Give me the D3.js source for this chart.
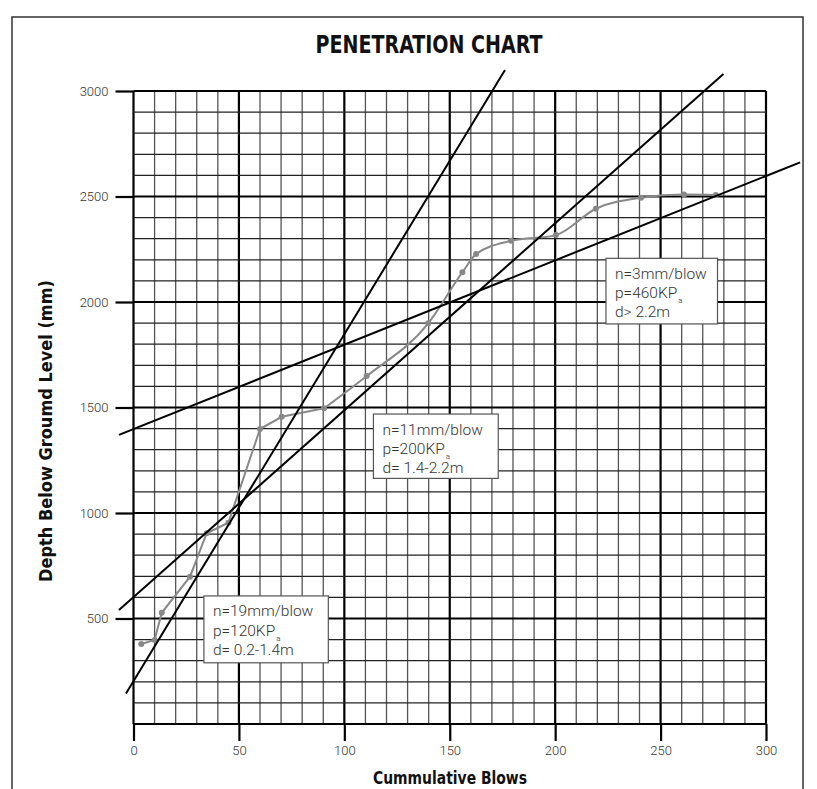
<!DOCTYPE html>
<html>
<head>
<meta charset="utf-8">
<script src="https://cdn.jsdelivr.net/npm/d3@7"></script>
<style>
  html, body { margin: 0; padding: 0; background: #fff; }
  svg { display: block; }
</style>
</head>
<body>
<script>
// ---------- DATA ----------
const xTickValues = [0, 50, 100, 150, 200, 250, 300];
const yTickValues = [500, 1000, 1500, 2000, 2500, 3000];
const blows  = [3.7, 10, 13.4, 26.8, 34.7, 45, 60, 70.3, 90.4, 110.6, 139.8, 156, 162.5, 179, 200.4, 219.3, 240.7, 261.1, 276.2];
const depths = [379, 398, 527, 698, 904, 954, 1398, 1456, 1496, 1649, 1899, 2141, 2227, 2290, 2317, 2442, 2494, 2509, 2507];
// fitted lines: [x, y] in data units
const fitLineStart = [[-3.56, 145], [-6.9, 540], [-6.9, 1370]];
const fitLineEnd   = [[176.2, 3100], [279.8, 3080], [316.2, 2662]];
const annotationN = ["n=19mm/blow", "n=11mm/blow", "n=3mm/blow"];
const annotationP = ["p=120KP", "p=200KP", "p=460KP"];
const annotationD = ["d= 0.2-1.4m", "d= 1.4-2.2m", "d> 2.2m"];

// ---------- LAYOUT ----------
const W = 817, H = 789;
const svg = d3.select("body").append("svg").attr("width", W).attr("height", H);
const x = d3.scaleLinear().domain([0, 300]).range([133.5, 766]);
const y = d3.scaleLinear().domain([0, 3000]).range([724, 91]);
// annotation box extents in data units [x0, x1, yTop, yBottom]
const boxExt = [[33.4, 92.4, 607, 290], [113.8, 173, 1469, 1164], [224.1, 277, 2207, 1896]];

// outer border
svg.append("rect").attr("x", 12).attr("y", 17).attr("width", 791).attr("height", 820)
  .attr("fill", "none").attr("stroke", "#333").attr("stroke-width", 1.5);

// title
svg.append("text").attr("x", 429).attr("y", 53).attr("text-anchor", "middle")
  .attr("font-family", "'Liberation Sans Narrow','DejaVu Sans Condensed',Roboto,sans-serif")
  .attr("font-weight", "bold").attr("font-size", 24)
  .attr("textLength", 227).attr("lengthAdjust", "spacingAndGlyphs")
  .attr("fill", "#111").text("PENETRATION CHART");

// grid
const g = svg.append("g");
const xs = d3.range(0, 301, 10), ys = d3.range(0, 3001, 100);
g.selectAll("line.v").data(xs).join("line")
  .attr("x1", d => x(d)).attr("x2", d => x(d)).attr("y1", y(0)).attr("y2", y(3000))
  .attr("stroke", d => d % 50 === 0 ? "#000" : "#555")
  .attr("stroke-width", d => d % 50 === 0 ? 2.2 : 1.3);
g.selectAll("line.h").data(ys).join("line")
  .attr("y1", d => y(d)).attr("y2", d => y(d)).attr("x1", x(0)).attr("x2", x(300))
  .attr("stroke", d => d % 500 === 0 ? "#000" : "#222")
  .attr("stroke-width", d => d % 500 === 0 ? 2.2 : 1.3);

// axes
const tickFont = "Roboto, 'Liberation Sans', sans-serif";
const ya = svg.append("g").attr("transform", `translate(${x(0)},0)`)
  .call(d3.axisLeft(y).tickValues(yTickValues).tickSize(18).tickPadding(7).tickFormat(d3.format("d")));
const xa = svg.append("g").attr("transform", `translate(0,${y(0)})`)
  .call(d3.axisBottom(x).tickValues(xTickValues).tickSize(17).tickPadding(5).tickFormat(d3.format("d")));
[ya, xa].forEach(a => {
  a.select(".domain").remove();
  a.selectAll(".tick line").attr("stroke", "#000").attr("stroke-width", 2.2);
  a.selectAll(".tick text").attr("font-family", tickFont).attr("font-weight", 300)
    .attr("font-size", 13).attr("fill", "#333");
});

// axis titles
svg.append("text").attr("transform", "translate(52,431) rotate(-90)").attr("text-anchor", "middle")
  .attr("font-family", "'Liberation Sans Narrow','DejaVu Sans Condensed',Roboto,sans-serif")
  .attr("font-weight", "bold").attr("font-size", 17)
  .attr("textLength", 302).attr("lengthAdjust", "spacingAndGlyphs")
  .attr("fill", "#111").text("Depth Below Groumd Level (mm)");
svg.append("text").attr("x", 450).attr("y", 784).attr("text-anchor", "middle")
  .attr("font-family", "'Liberation Sans Narrow','DejaVu Sans Condensed',Roboto,sans-serif")
  .attr("font-weight", "bold").attr("font-size", 17)
  .attr("textLength", 154).attr("lengthAdjust", "spacingAndGlyphs")
  .attr("fill", "#111").text("Cummulative Blows");

// data series
const pts = blows.map((b, i) => [b, depths[i]]);
const splitIdx = blows.indexOf(90.4);
const lowerPts = pts.slice(0, splitIdx + 1), upperPts = pts.slice(splitIdx);
svg.append("path").datum(lowerPts)
  .attr("d", d3.line().x(d => x(d[0])).y(d => y(d[1])))
  .attr("fill", "none").attr("stroke", "#888").attr("stroke-width", 2);
svg.append("path").datum(upperPts)
  .attr("d", d3.line().x(d => x(d[0])).y(d => y(d[1])).curve(d3.curveMonotoneX))
  .attr("fill", "none").attr("stroke", "#888").attr("stroke-width", 2);
svg.selectAll("circle.pt").data(pts).join("circle")
  .attr("cx", d => x(d[0])).attr("cy", d => y(d[1])).attr("r", 3).attr("fill", "#888");

// fitted lines
svg.selectAll("line.fit").data(fitLineStart.map((s, i) => [s, fitLineEnd[i]])).join("line")
  .attr("x1", d => x(d[0][0])).attr("y1", d => y(d[0][1]))
  .attr("x2", d => x(d[1][0])).attr("y2", d => y(d[1][1]))
  .attr("stroke", "#000").attr("stroke-width", 2);

// annotation boxes
const boxFont = "Roboto, 'Liberation Sans', sans-serif";
boxExt.forEach((b, i) => {
  const bx = x(b[0]), by = y(b[2]), bw = x(b[1]) - x(b[0]), bh = y(b[3]) - y(b[2]);
  const grp = svg.append("g");
  grp.append("rect").attr("x", bx).attr("y", by).attr("width", bw).attr("height", bh)
    .attr("fill", "#fff").attr("stroke", "#555").attr("stroke-width", 1.2);
  const lines = [annotationN[i], annotationP[i], annotationD[i]];
  let pWidth = 0;
  lines.forEach((t, j) => {
    const tx = grp.append("text").attr("x", bx + 9).attr("y", by + 20.5 + j * 19.3)
      .attr("font-family", boxFont).attr("font-weight", 300).attr("font-size", 15.5).attr("fill", "#333")
      .text(t);
    if (j === 1) pWidth = tx.node().getComputedTextLength();
  });
  // subscript "a" after the KP text
  grp.append("text").attr("x", bx + 9 + pWidth + 1).attr("y", by + 20.5 + 19.3 + 5)
    .attr("font-family", boxFont).attr("font-weight", 300).attr("font-size", 8).attr("fill", "#333")
    .text("a");
});
</script>
</body>
</html>
